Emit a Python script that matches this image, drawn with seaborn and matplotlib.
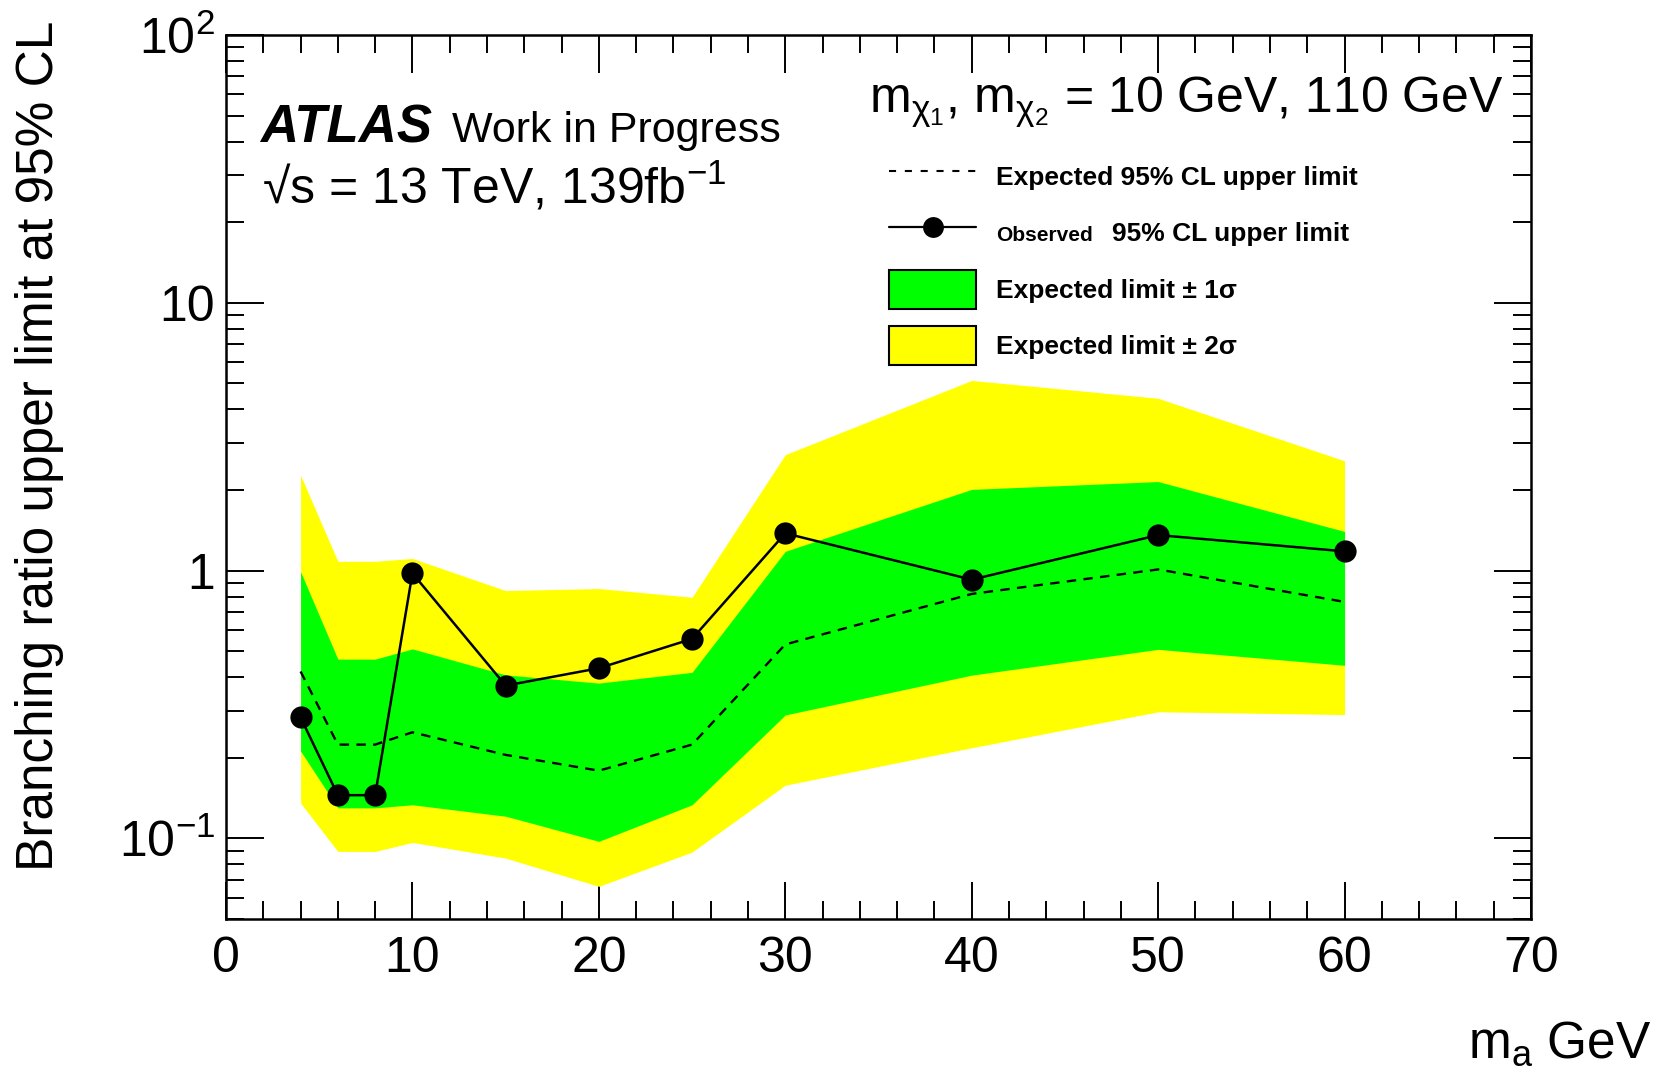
import numpy as np
import pandas as pd
import matplotlib
matplotlib.use("Agg")
import matplotlib.pyplot as plt
import seaborn as sns
from matplotlib.lines import Line2D
from matplotlib.patches import Patch
from matplotlib.ticker import (FixedLocator, FixedFormatter, MultipleLocator,
                               LogLocator, NullFormatter)
from matplotlib.offsetbox import TextArea

# ---------------- data ----------------
mass_a = [4, 6, 8, 10, 15, 20, 25, 30, 40, 50, 60]
observed = [0.283, 0.145, 0.145, 0.977, 0.372, 0.432, 0.556, 1.378, 0.925, 1.357, 1.18]
expected = [0.42, 0.224, 0.224, 0.249, 0.205, 0.179, 0.224, 0.53, 0.818, 1.01, 0.764]
band1_up = [0.99, 0.467, 0.467, 0.51, 0.408, 0.38, 0.417, 1.18, 2.01, 2.15, 1.40]
band1_dn = [0.212, 0.130, 0.130, 0.1335, 0.121, 0.0975, 0.1335, 0.289, 0.407, 0.508, 0.443]
band2_up = [2.27, 1.083, 1.083, 1.11, 0.842, 0.857, 0.795, 2.71, 5.13, 4.40, 2.57]
band2_dn = [0.1355, 0.0894, 0.0894, 0.0966, 0.0844, 0.0662, 0.0889, 0.158, 0.218, 0.297, 0.29]

x_ticks = [0, 10, 20, 30, 40, 50, 60, 70]
x_tick_labels = ["0", "10", "20", "30", "40", "50", "60", "70"]
y_ticks = [0.1, 1, 10, 100]
y_tick_labels = [r"$10^{-1}$", "1", "10", r"$10^{2}$"]

legend_labels = ["Expected 95% CL upper limit", "Observed",
                 "Expected limit \u00b1 1\u03c3", "Expected limit \u00b1 2\u03c3"]
observed_suffix = "95% CL upper limit"

# ---------------- style ----------------
sns.set_style("white")
plt.rcParams["font.family"] = ["Liberation Sans", "DejaVu Sans"]
plt.rcParams["mathtext.fontset"] = "custom"
plt.rcParams["mathtext.rm"] = "Liberation Sans"
plt.rcParams["mathtext.it"] = "Liberation Sans:italic"
plt.rcParams["mathtext.bf"] = "Liberation Sans:bold"
plt.rcParams["axes.linewidth"] = 1.8
for key in ["text.color", "axes.labelcolor", "xtick.color", "ytick.color",
            "axes.edgecolor"]:
    plt.rcParams[key] = "black"

W, H = 1660, 1069
fig = plt.figure(figsize=(W / 100, H / 100), dpi=100)
L, R, T, B = 226, 1531, 35, 919
ax = fig.add_axes([L / W, 1 - B / H, (R - L) / W, (B - T) / H])

df = pd.DataFrame({"mass": mass_a, "observed": observed, "expected": expected,
                   "b1u": band1_up, "b1d": band1_dn, "b2u": band2_up, "b2d": band2_dn})

ax.fill_between(df["mass"], df["b2d"], df["b2u"], color="#ffff00", lw=0, zorder=1)
ax.fill_between(df["mass"], df["b1d"], df["b1u"], color="#00ff00", lw=0, zorder=2)

sns.lineplot(data=df, x="mass", y="expected", ax=ax, color="black", lw=1.7,
             linestyle=(0, (4.0, 3.1)), sort=False, errorbar=None, zorder=3)
sns.lineplot(data=df, x="mass", y="observed", ax=ax, color="black", lw=1.8,
             marker="o", markersize=16, markeredgecolor="black",
             markeredgewidth=0, sort=False, errorbar=None, zorder=4)

ax.set_yscale("log")
ax.set_xlim(0, 70)
ax.set_ylim(0.05, 100)
ax.set_xlabel("")
ax.set_ylabel("")

ax.xaxis.set_major_locator(FixedLocator(x_ticks))
ax.xaxis.set_major_formatter(FixedFormatter(x_tick_labels))
ax.xaxis.set_minor_locator(MultipleLocator(2))
ax.yaxis.set_major_locator(FixedLocator(y_ticks))
ax.yaxis.set_major_formatter(FixedFormatter(y_tick_labels))
ax.yaxis.set_minor_locator(LogLocator(base=10, subs=np.arange(2, 10)))
ax.yaxis.set_minor_formatter(NullFormatter())

ax.tick_params(which="both", direction="in", top=True, right=True,
               bottom=True, left=True, width=1.4, color="black",
               labelcolor="black")
ax.tick_params(which="major", length=27, labelsize=36)
ax.tick_params(which="minor", length=13)
ax.tick_params(axis="x", which="major", pad=12)
ax.tick_params(axis="y", which="major", pad=8)
for s in ax.spines.values():
    s.set_color("black")

# ---------------- texts ----------------
fig.text(40 / W, 1 - 446 / H, "Branching ratio upper limit at 95% CL",
         rotation=90, ha="center", va="center", fontsize=37)
fig.text(1652 / W, 1 - 1058 / H, r"m$_{\mathrm{a}}$ GeV", ha="right",
         va="baseline", fontsize=37)

fig.text(260 / W, 1 - 142 / H, "ATLAS", fontsize=38, weight="bold",
         style="italic", va="baseline")
fig.text(452 / W, 1 - 142 / H, "Work in Progress", fontsize=31, va="baseline")
fig.text(262 / W, 1 - 203 / H, "\u221as = 13 TeV, 139fb$^{-1}$", fontsize=36,
         va="baseline")
fig.text(869 / W, 1 - 113 / H,
         r"m$_{\mathrm{\chi}_{1}}$, m$_{\mathrm{\chi}_{2}}$ = 10 GeV, 110 GeV",
         fontsize=36, va="baseline")

# ---------------- legend ----------------
handles = [
    Line2D([], [], color="black", lw=1.5, linestyle=(0, (3.4, 4.2))),
    Line2D([], [], color="black", lw=1.6, marker="o", markersize=15,
           markeredgewidth=0),
    Patch(facecolor="#00ff00", edgecolor="black", lw=1.5),
    Patch(facecolor="#ffff00", edgecolor="black", lw=1.5),
]
leg_fs = 19
leg = ax.legend(handles, legend_labels, loc="upper left",
                bbox_to_anchor=(889 / W, 1 - 157 / H),
                bbox_transform=fig.transFigure, frameon=False, borderpad=0,
                borderaxespad=0, handlelength=3.3, handleheight=1.9,
                handletextpad=0.75, labelspacing=0.66,
                prop=dict(weight="bold", size=leg_fs))
leg.texts[1].set_fontsize(15)
try:
    obs_box = leg._legend_handle_box.get_children()[0].get_children()[1]
    extra = TextArea(observed_suffix,
                     textprops=dict(fontsize=leg_fs, weight="bold",
                                    color="black",
                                    family=["Liberation Sans", "DejaVu Sans"]))
    extra.set_figure(fig)
    obs_box.get_children().append(extra)
except Exception:
    leg.texts[1].set_text("Observed  " + observed_suffix)

fig.savefig("out.png", dpi=100)
